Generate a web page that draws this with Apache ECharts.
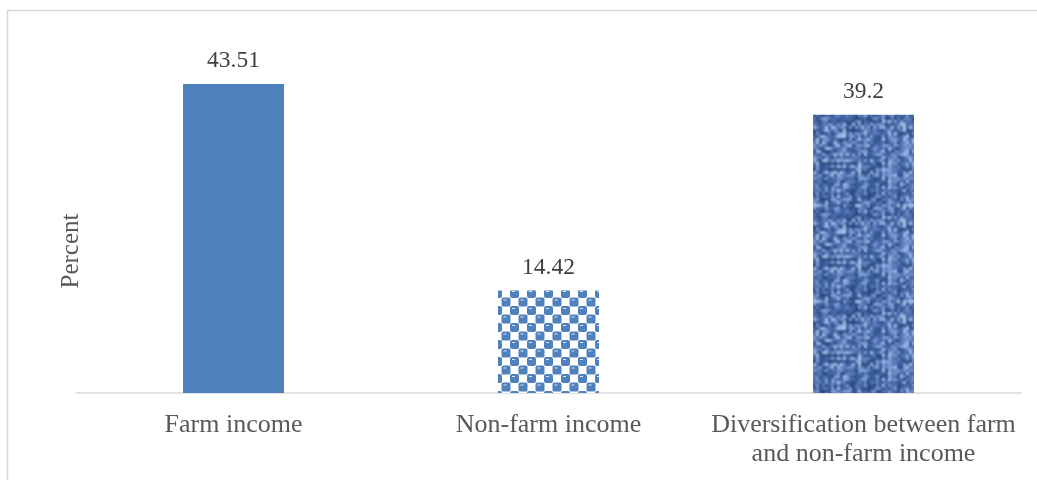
<!DOCTYPE html>
<html>
<head>
<meta charset="utf-8">
<script src="https://cdn.jsdelivr.net/npm/echarts@6/dist/echarts.min.js"></script>
<style>
  html, body { margin: 0; padding: 0; background: #ffffff; }
  #chart { width: 1037px; height: 480px; }
</style>
</head>
<body>
<div id="chart"></div>
<script>
// Income sources, share of households (%)
const categories = ['Farm income', 'Non-farm income', 'Diversification between farm\nand non-farm income'];
const values = [43.51, 14.42, 39.2];
const yAxisName = 'Percent';

const BLUE = '#4f81bd';

// Checkerboard tile: rounded blue cells with a small light dash
function checkerTile() {
  const c = document.createElement('canvas');
  c.width = 17; c.height = 17;
  const g = c.getContext('2d');
  g.fillStyle = '#ffffff';
  g.fillRect(0, 0, 17, 17);
  function cell(x, y) {
    g.fillStyle = BLUE;
    g.beginPath();
    if (g.roundRect) g.roundRect(x, y, 9, 9, 2); else g.rect(x, y, 9, 9);
    g.fill();
    g.fillStyle = '#dbe5f3';
    g.fillRect(x + 2, y + 2, 3, 1);
  }
  cell(0, 0);
  cell(8.5, 8.5);
  cell(-8.5, 8.5);
  cell(8.5, -8.5);
  return c;
}

// Woven denim-like tile built from a seeded hash
function wovenTile() {
  const W = 96, H = 96, S = 3;
  let seed = 20240611;
  function next() {
    seed |= 0; seed = (seed + 0x6D2B79F5) | 0;
    let t = Math.imul(seed ^ (seed >>> 15), 1 | seed);
    t = (t + Math.imul(t ^ (t >>> 7), 61 | t)) ^ t;
    return ((t ^ (t >>> 14)) >>> 0) / 4294967296;
  }
  const palette = ['#29477c', '#345893', '#4668a8', '#5e7fbe', '#809ed6', '#a9c1ea'];
  const base = document.createElement('canvas');
  base.width = W; base.height = H;
  const g = base.getContext('2d');
  const cols = W / S, rows = H / S;
  const colBias = [], rowBias = [];
  for (let i = 0; i < cols; i++) colBias.push((next() - 0.5) * 0.5);
  for (let j = 0; j < rows; j++) rowBias.push((next() - 0.5) * 0.35);
  for (let j = 0; j < rows; j++) {
    for (let i = 0; i < cols; i++) {
      const v = next() * 0.75 + 0.12 + ((i + j) % 2 === 0 ? colBias[i] : rowBias[j]);
      let idx = Math.floor(v * palette.length);
      idx = Math.max(0, Math.min(palette.length - 1, idx));
      g.fillStyle = palette[idx];
      g.fillRect(i * S, j * S, S, S);
    }
  }
  // lay the tile out 3x3 first, blur the whole mosaic, then cut out the centre
  const mosaic = document.createElement('canvas');
  mosaic.width = W * 3; mosaic.height = H * 3;
  const gm = mosaic.getContext('2d');
  for (let a = 0; a < 3; a++)
    for (let b = 0; b < 3; b++) gm.drawImage(base, a * W, b * H);
  const soft = document.createElement('canvas');
  soft.width = W * 3; soft.height = H * 3;
  const gs = soft.getContext('2d');
  gs.filter = 'blur(1px)';
  gs.drawImage(mosaic, 0, 0);
  const out = document.createElement('canvas');
  out.width = W; out.height = H;
  out.getContext('2d').drawImage(soft, W, H, W, H, 0, 0, W, H);
  return out;
}

const fills = [
  BLUE,
  { image: checkerTile(), repeat: 'repeat' },
  { image: wovenTile(), repeat: 'repeat' }
];

const chart = echarts.init(document.getElementById('chart'), null, { renderer: 'canvas' });
chart.setOption({
  animation: false,
  backgroundColor: '#ffffff',
  graphic: [{
    type: 'rect',
    shape: { x: 7.5, y: 10.5, width: 1100, height: 600 },
    style: { fill: 'none', stroke: '#d9d9d9', lineWidth: 1.5 },
    silent: true,
    z: -1
  }, {
    type: 'text',
    x: 71,
    y: 251,
    rotation: Math.PI / 2,
    style: {
      text: yAxisName,
      fill: '#595959',
      font: '25px "Liberation Serif"',
      align: 'center',
      verticalAlign: 'middle'
    },
    silent: true
  }],
  grid: { left: 76, right: 16, top: 38, bottom: 87, containLabel: false },
  xAxis: {
    type: 'category',
    data: categories,
    axisLine: { lineStyle: { color: '#d9d9d9', width: 1.5 } },
    axisTick: { show: false },
    axisLabel: {
      interval: 0,
      margin: 18,
      color: '#595959',
      fontFamily: 'Liberation Serif',
      fontSize: 26,
      lineHeight: 29
    }
  },
  yAxis: {
    type: 'value',
    min: 0,
    max: 50,
    axisLine: { show: false },
    axisTick: { show: false },
    axisLabel: { show: false },
    splitLine: { show: false }
  },
  series: [{
    type: 'bar',
    barWidth: 101,
    data: values.map((v, i) => ({ value: v, itemStyle: { color: fills[i] } })),
    label: {
      show: true,
      position: 'top',
      distance: 11,
      color: '#404040',
      fontFamily: 'Liberation Serif',
      fontSize: 23.5,
      formatter: p => String(p.value)
    }
  }]
});
</script>
</body>
</html>
